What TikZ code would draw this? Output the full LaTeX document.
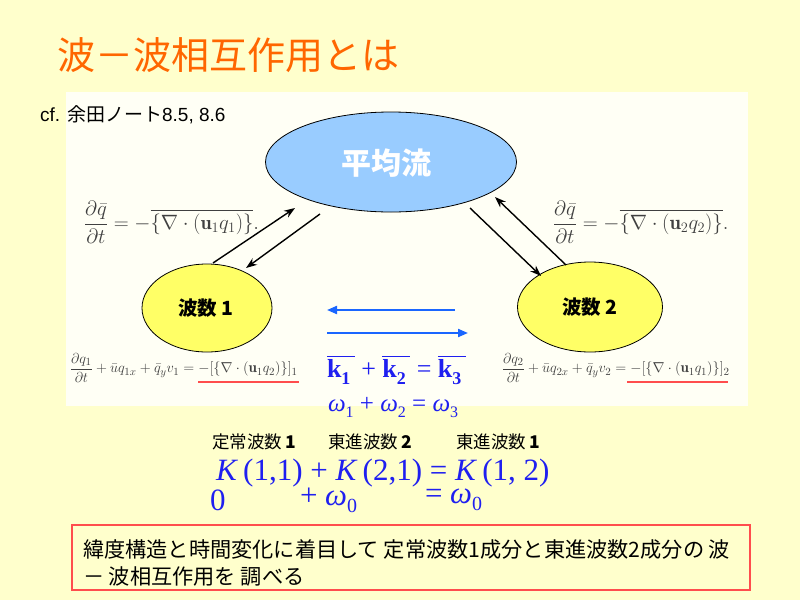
\documentclass[tikz,border=0pt]{standalone}
\usepackage{fontspec}
\usepackage{amsmath}
\usetikzlibrary{shapes.geometric,arrows.meta}
\newfontfamily\jp{Noto Sans CJK JP}
\newfontfamily\arial{Liberation Sans}
\newfontfamily\tnr{Liberation Serif}
\definecolor{bg}{HTML}{FFFFCC}
\definecolor{panel}{HTML}{FFFFF5}
\definecolor{titleor}{HTML}{FF6600}
\definecolor{meanblue}{HTML}{99CCFF}
\definecolor{wavey}{HTML}{FFFF66}
\definecolor{arrblue}{HTML}{1A66FF}
\definecolor{eqblue}{HTML}{1F1FF0}
\definecolor{uline}{HTML}{FF4D4D}
\definecolor{eqgray}{HTML}{404040}
\newcommand\kv[1]{$\overline{\hbox{\tnr\bfseries k\raisebox{-7pt}{\fontsize{18}{18}\selectfont #1}\,}}$}
\newcommand\om[1]{{\tnr\itshape ω}\raisebox{-6pt}{\fontsize{16}{16}\selectfont\tnr #1}}
\begin{document}
\begin{tikzpicture}[x=1pt,y=-1pt,
  every node/.style={inner sep=0pt,outer sep=0pt},
  blob/.style={ellipse,draw=black,line width=0.8pt},
  blk/.style={-{Stealth[length=11pt,width=8pt]},line width=1.4pt,black},
  blu/.style={-{Triangle[length=10pt,width=8pt]},line width=2pt,arrblue},
  jpl/.style={font=\jp\fontsize{17.5}{17.5}\selectfont},
  uln/.style={uline,line width=2pt}]
\fill[bg] (0,0) rectangle (800,600);
\useasboundingbox (0,0) rectangle (800,600);
\fill[panel] (66,92) rectangle (748,406);
% title
\node[anchor=west,text=titleor,font=\jp\fontsize{38}{40}\selectfont] (title) at (57,55) {波－波相互作用とは};
\node[anchor=west,font=\fontsize{19}{19}\selectfont] (cf) at (40,115) {\arial cf. \jp 余田ノート\arial 8.5, 8.6};
% ellipses
\node[blob,fill=meanblue,minimum width=251pt,minimum height=100pt] (mean) at (391,162) {};
\node[text=white,font=\jp\bfseries\fontsize{30}{30}\selectfont] (meant) at (386,163) {平均流};
\node[blob,fill=wavey,minimum width=130pt,minimum height=88pt] (w1) at (207,308) {};
\node[font=\jp\bfseries\fontsize{19.5}{19.5}\selectfont] (w1t) at (206,308) {波数 1};
\node[blob,fill=wavey,minimum width=145pt,minimum height=90pt] (w2) at (590,307) {};
\node[font=\jp\bfseries\fontsize{19.5}{19.5}\selectfont] (w2t) at (590,307) {波数 2};
% black arrows
\coordinate (a1s) at (213,263); \coordinate (a1e) at (295,208);
\coordinate (a2s) at (320,214); \coordinate (a2e) at (246,268);
\coordinate (a3s) at (470,208); \coordinate (a3e) at (541,276);
\coordinate (a4s) at (566,265); \coordinate (a4e) at (495,197);
\draw[blk] (a1s) -- (a1e);
\draw[blk] (a2s) -- (a2e);
\draw[blk] (a3s) -- (a3e);
\draw[blk] (a4s) -- (a4e);
% blue arrows
\coordinate (b1s) at (455,310); \coordinate (b1e) at (327,310);
\coordinate (b2s) at (327,333); \coordinate (b2e) at (468,333);
\draw[blu] (b1s) -- (b1e);
\draw[blu] (b2s) -- (b2e);
% formulas top
\node[anchor=west,text=eqgray,font=\fontsize{20}{24}\selectfont] (fl) at (84,222)
  {$\displaystyle \frac{\partial\bar q}{\partial t} = -\overline{\{\nabla\cdot(\mathbf{u}_1 q_1)\}}.$};
\node[anchor=west,text=eqgray,font=\fontsize{20.5}{24}\selectfont] (fr) at (553,222)
  {$\displaystyle \frac{\partial\bar q}{\partial t} = -\overline{\{\nabla\cdot(\mathbf{u}_2 q_2)\}}.$};
% formulas bottom
\node[anchor=west,text=eqgray,font=\fontsize{15}{18}\selectfont] (fbl) at (70,368)
  {$\displaystyle \frac{\partial q_1}{\partial t} + \bar u q_{1x} + \bar q_y v_1 = -[\{\nabla\cdot(\mathbf{u}_1 q_2)\}]_1$};
\node[anchor=west,text=eqgray,font=\fontsize{15}{18}\selectfont] (fbr) at (502,368)
  {$\displaystyle \frac{\partial q_2}{\partial t} + \bar u q_{2x} + \bar q_y v_2 = -[\{\nabla\cdot(\mathbf{u}_1 q_1)\}]_2$};
\draw[uln] (198,382) -- (299,382);
\draw[uln] (627,382) -- (728,382);
% k and omega
\node[anchor=west,text=eqblue,font=\tnr\fontsize{26}{26}\selectfont] (keq) at (327,370)
  {\kv{1} + \kv{2} = \kv{3}};
\node[anchor=west,text=eqblue,font=\tnr\fontsize{25}{25}\selectfont] (weq) at (328,408)
  {\om{1} + \om{2} = \om{3}};
% labels
\node[anchor=west,jpl] (l1) at (212,442) {定常波数 \textbf{1}};
\node[anchor=west,jpl] (l2) at (328,442) {東進波数 \textbf{2}};
\node[anchor=west,jpl] (l3) at (456,442) {東進波数 \textbf{1}};
\node[anchor=west,text=eqblue,font=\tnr\fontsize{31}{31}\selectfont] (Keq) at (216,473)
  {\textit{K}\,(1,1) + \textit{K}\,(2,1) = \textit{K}\,(1, 2)};
\node[anchor=west,text=eqblue,font=\tnr\fontsize{31}{31}\selectfont] (z0) at (210,500) {0};
\node[anchor=west,text=eqblue,font=\tnr\fontsize{31}{31}\selectfont] (z1) at (300,500) {+ \textit{ω}\raisebox{-7pt}{\fontsize{20}{20}\selectfont 0}};
\node[anchor=west,text=eqblue,font=\tnr\fontsize{31}{31}\selectfont] (z2) at (425,500) {= \textit{ω}\raisebox{-7pt}{\fontsize{20}{20}\selectfont 0}};
% bottom box
\node[draw=uline,line width=1.5pt,anchor=north west,minimum width=678pt,minimum height=65pt] (box) at (72,525) {};
\node[anchor=west,font=\jp\fontsize{21.2}{21.2}\selectfont] (bt1) at (83,549) {緯度構造と時間変化に着目して 定常波数1成分と東進波数2成分の 波};
\node[anchor=west,font=\jp\fontsize{21.2}{21.2}\selectfont] (bt2) at (83,576) {－ 波相互作用を 調べる};
\end{tikzpicture}
\end{document}
